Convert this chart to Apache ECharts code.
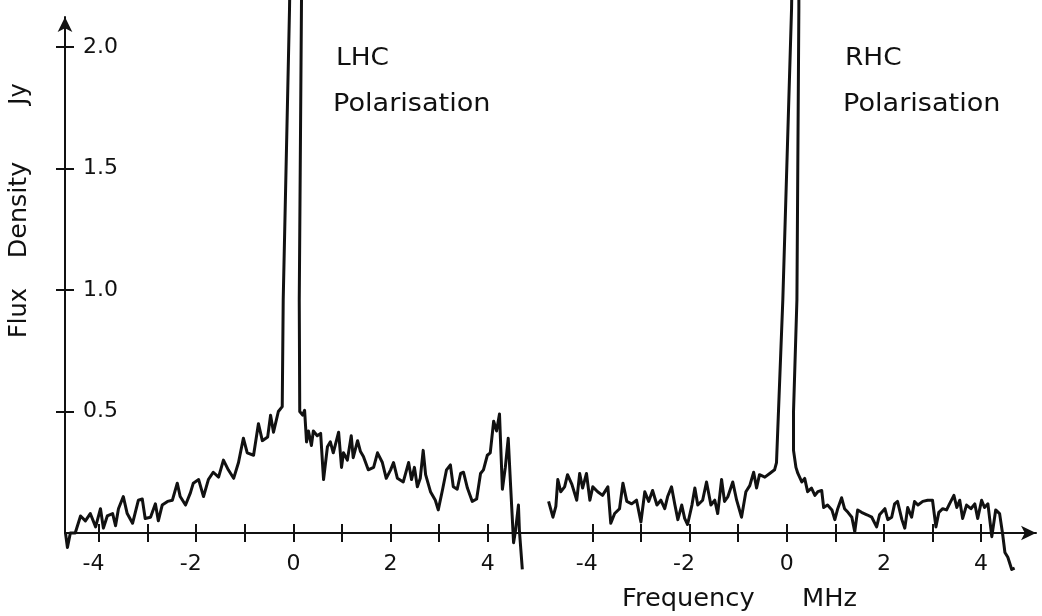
<!DOCTYPE html>
<html>
<head>
<meta charset="utf-8">
<script src="https://cdn.jsdelivr.net/npm/echarts@6/dist/echarts.min.js"></script>
<style>
html,body{margin:0;padding:0;background:#fff;}
#chart{width:1042px;height:616px;}
</style>
</head>
<body>
<div id="chart"></div>
<script>
// LHC polarisation spectrum (frequency offset MHz, flux density Jy)
const lhcFreq = [-4.69,-4.65,-4.59,-4.49,-4.38,-4.28,-4.18,-4.07,-3.97,-3.91,-3.83,-3.72,-3.66,-3.60,-3.50,-3.42,-3.31,-3.19,-3.11,-3.05,-2.94,-2.84,-2.78,-2.70,-2.59,-2.49,-2.39,-2.33,-2.22,-2.12,-2.06,-1.95,-1.85,-1.75,-1.65,-1.54,-1.44,-1.34,-1.23,-1.13,-1.03,-0.95,-0.82,-0.72,-0.64,-0.53,-0.47,-0.41,-0.31,-0.23,-0.21,-0.08,-0.07,0.17,0.165,0.12,0.13,0.19,0.23,0.27,0.31,0.37,0.41,0.49,0.56,0.62,0.70,0.76,0.82,0.93,0.99,1.03,1.11,1.19,1.23,1.32,1.38,1.44,1.54,1.65,1.73,1.83,1.91,2.00,2.06,2.14,2.26,2.37,2.43,2.49,2.55,2.61,2.67,2.72,2.82,2.92,2.98,3.07,3.15,3.23,3.29,3.37,3.44,3.50,3.58,3.68,3.77,3.85,3.91,3.99,4.05,4.12,4.18,4.24,4.30,4.36,4.42,4.47,4.53,4.57,4.63,4.65,4.71];
const lhcFlux = [0,-0.06,0,0,0.07,0.05,0.08,0.025,0.10,0.02,0.07,0.08,0.03,0.10,0.15,0.08,0.04,0.135,0.14,0.06,0.065,0.12,0.05,0.115,0.13,0.135,0.205,0.15,0.115,0.165,0.205,0.22,0.15,0.22,0.25,0.23,0.30,0.26,0.225,0.29,0.39,0.33,0.32,0.45,0.38,0.395,0.485,0.415,0.50,0.52,0.96,2.16,2.3,2.3,2.16,0.96,0.50,0.485,0.505,0.375,0.42,0.36,0.42,0.40,0.41,0.22,0.355,0.375,0.33,0.415,0.27,0.33,0.30,0.40,0.31,0.38,0.335,0.315,0.26,0.27,0.33,0.29,0.225,0.26,0.29,0.225,0.21,0.29,0.22,0.27,0.19,0.225,0.34,0.24,0.17,0.135,0.095,0.18,0.26,0.28,0.19,0.18,0.245,0.25,0.185,0.13,0.14,0.245,0.26,0.32,0.33,0.46,0.42,0.49,0.18,0.27,0.39,0.19,-0.04,0.01,0.115,0.01,-0.15];
// RHC polarisation spectrum
const rhcFreq = [-4.90,-4.81,-4.75,-4.71,-4.65,-4.57,-4.51,-4.42,-4.32,-4.26,-4.20,-4.12,-4.05,-3.99,-3.89,-3.79,-3.68,-3.62,-3.54,-3.44,-3.37,-3.29,-3.19,-3.09,-3.00,-2.92,-2.84,-2.76,-2.67,-2.59,-2.51,-2.45,-2.37,-2.30,-2.24,-2.16,-2.10,-2.04,-1.95,-1.89,-1.83,-1.73,-1.65,-1.56,-1.48,-1.42,-1.34,-1.28,-1.21,-1.11,-1.03,-0.93,-0.84,-0.76,-0.68,-0.62,-0.56,-0.45,-0.35,-0.25,-0.21,-0.08,0.10,0.11,0.25,0.25,0.21,0.14,0.14,0.19,0.23,0.31,0.37,0.43,0.51,0.58,0.64,0.72,0.76,0.84,0.93,0.99,1.05,1.13,1.19,1.26,1.34,1.40,1.46,1.54,1.65,1.75,1.85,1.91,2.02,2.08,2.16,2.22,2.28,2.37,2.43,2.49,2.57,2.63,2.70,2.80,2.90,3.00,3.07,3.13,3.21,3.29,3.35,3.44,3.50,3.56,3.62,3.70,3.79,3.87,3.93,4.01,4.07,4.14,4.22,4.30,4.38,4.44,4.49,4.55,4.63,4.69];
const rhcFlux = [0.13,0.065,0.11,0.22,0.17,0.19,0.24,0.20,0.135,0.245,0.185,0.245,0.135,0.19,0.17,0.155,0.19,0.04,0.08,0.10,0.205,0.13,0.12,0.135,0.045,0.17,0.13,0.175,0.115,0.135,0.10,0.15,0.19,0.115,0.055,0.115,0.06,0.035,0.115,0.185,0.115,0.135,0.21,0.115,0.135,0.08,0.22,0.13,0.15,0.21,0.135,0.065,0.17,0.195,0.25,0.185,0.24,0.23,0.245,0.26,0.29,0.96,2.16,2.3,2.3,2.16,0.96,0.50,0.34,0.27,0.245,0.21,0.225,0.17,0.185,0.155,0.17,0.175,0.105,0.115,0.095,0.055,0.10,0.145,0.10,0.085,0.065,0.005,0.095,0.085,0.075,0.065,0.025,0.075,0.10,0.055,0.065,0.12,0.13,0.055,0.02,0.105,0.065,0.13,0.115,0.13,0.135,0.135,0.025,0.085,0.10,0.095,0.12,0.155,0.105,0.135,0.06,0.115,0.10,0.12,0.06,0.135,0.105,0.12,-0.015,0.095,0.08,0,-0.08,-0.10,-0.15,-0.145];

const xTicks = [-4,-3,-2,-1,0,1,2,3,4];
const xLabels = [-4,-2,0,2,4];
const yTicks = [0.5,1.0,1.5,2.0];

const ink = '#111';
const FONT = '"DejaVu Sans", sans-serif';
const PXPERMHZ = 48.6;
const GRID_TOP = 17;
const GRID_H = 516;
const YMAX = GRID_H / 243;
const LEFT_MIN = -4.7, LEFT_MAX = 5.05, RIGHT_MIN = -5.1, RIGHT_MAX = 5.13;

const pairs = (xs, ys) => xs.map((x, i) => [x, ys[i]]);
const xFmt = v => (v < 0 ? String(v) + '\u2002' : String(v));

function xMain(grid, min, max, arrow) {
  return {
    gridIndex: grid, type: 'value', min: min, max: max, position: 'bottom',
    axisLine: { show: true, onZero: false, symbol: arrow ? ['none', 'arrow'] : ['none', 'none'], symbolSize: [11, 15], lineStyle: { color: ink, width: 2 } },
    axisTick: { show: true, inside: false, length: 9, customValues: xTicks, lineStyle: { color: ink, width: 2 } },
    axisLabel: { show: true, margin: 20, customValues: xLabels, formatter: xFmt, color: ink, fontFamily: FONT, fontSize: 22 },
    splitLine: { show: false }
  };
}
function xDup(grid, min, max) {
  return {
    gridIndex: grid, type: 'value', min: min, max: max, position: 'bottom',
    axisLine: { show: false, onZero: false },
    axisTick: { show: true, inside: true, length: 9, customValues: xTicks, lineStyle: { color: ink, width: 2 } },
    axisLabel: { show: false }, splitLine: { show: false }
  };
}
function txt(t, x, y, sx, rot, align) {
  return {
    type: 'text', x: x, y: y, rotation: rot || 0, scaleX: sx,
    style: { text: t, font: '24px ' + FONT, fill: ink, textAlign: align || 'left', textVerticalAlign: 'middle', align: align || 'left', verticalAlign: 'middle' }
  };
}

const leftW = (LEFT_MAX - LEFT_MIN) * PXPERMHZ;
const option = {
  backgroundColor: '#fff',
  animation: false,
  grid: [
    { left: 65, top: GRID_TOP, width: leftW, height: GRID_H, containLabel: false },
    { left: 65 + leftW, top: GRID_TOP, width: (RIGHT_MAX - RIGHT_MIN) * PXPERMHZ, height: GRID_H, containLabel: false }
  ],
  xAxis: [
    xMain(0, LEFT_MIN, LEFT_MAX, false),
    xDup(0, LEFT_MIN, LEFT_MAX),
    xMain(1, RIGHT_MIN, RIGHT_MAX, true),
    xDup(1, RIGHT_MIN, RIGHT_MAX)
  ],
  yAxis: [
    {
      gridIndex: 0, type: 'value', min: 0, max: YMAX, position: 'left',
      axisLine: { show: true, onZero: false, symbol: ['none', 'arrow'], symbolSize: [11, 15], lineStyle: { color: ink, width: 2 } },
      axisTick: { show: true, inside: false, length: 9, customValues: yTicks, lineStyle: { color: ink, width: 2 } },
      axisLabel: { show: true, inside: true, margin: 18, customValues: yTicks, formatter: v => v.toFixed(1), color: ink, fontFamily: FONT, fontSize: 22 },
      splitLine: { show: false }
    },
    {
      gridIndex: 0, type: 'value', min: 0, max: YMAX, position: 'left',
      axisLine: { show: false, onZero: false },
      axisTick: { show: true, inside: true, length: 9, customValues: yTicks, lineStyle: { color: ink, width: 2 } },
      axisLabel: { show: false }, splitLine: { show: false }
    },
    { gridIndex: 1, type: 'value', min: 0, max: YMAX, show: false }
  ],
  graphic: [
    txt('LHC', 336, 59, 1.1),
    txt('Polarisation', 333, 105, 1.13),
    txt('RHC', 845, 59, 1.1),
    txt('Polarisation', 843, 105, 1.13),
    txt('Frequency', 622, 600, 1.07),
    txt('MHz', 802, 600, 1.07),
    txt('Flux', 20, 313, 1.0, Math.PI / 2, 'center'),
    txt('Density', 20, 210, 1.06, Math.PI / 2, 'center'),
    txt('Jy', 20, 94, 1.0, Math.PI / 2, 'center')
  ],
  series: [
    {
      name: 'LHC', type: 'line', xAxisIndex: 0, yAxisIndex: 0, data: pairs(lhcFreq, lhcFlux),
      showSymbol: false, clip: false, smooth: false,
      lineStyle: { color: ink, width: 3, join: 'round' }
    },
    {
      name: 'RHC', type: 'line', xAxisIndex: 2, yAxisIndex: 2, data: pairs(rhcFreq, rhcFlux),
      showSymbol: false, clip: false, smooth: false,
      lineStyle: { color: ink, width: 3, join: 'round' }
    }
  ]
};

const chart = echarts.init(document.getElementById('chart'), null, { renderer: 'canvas' });
chart.setOption(option);
</script>
</body>
</html>
